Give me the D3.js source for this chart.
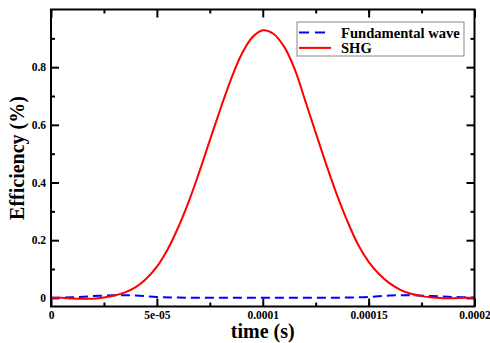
<!DOCTYPE html>
<html>
<head>
<meta charset="utf-8">
<script src="https://cdn.jsdelivr.net/npm/d3@7"></script>
<style>
  body { margin: 0; background: #fff; }
  svg text { font-family: "Liberation Serif", "Times New Roman", serif; font-weight: bold; }
</style>
</head>
<body>
<figure id="chart" style="margin:0"></figure>
<script>
// time samples (s), 5e-06 steps
const timeRed = d3.range(0, 41).map(i => i * 5e-6);
const shgValues = [
  0, 0, -0.002, -0.003, -0.003, 0.001, 0.008, 0.019, 0.037, 0.066,
  0.108, 0.167, 0.243, 0.333, 0.436, 0.546, 0.655, 0.758, 0.845, 0.903,
  0.928, 0.916, 0.872, 0.795, 0.685, 0.573, 0.462, 0.358, 0.265, 0.185,
  0.125, 0.082, 0.050, 0.028, 0.014, 0.006, 0.001, -0.001, -0.001, 0,
  0
];

// fundamental wave, 1e-05 steps
const timeBlue = d3.range(0, 21).map(i => i * 1e-5);
const fundValues = [
  0, 0.002, 0.006, 0.009, 0.008, 0.003, 0.001, 0, 0, 0,
  0, 0, 0, 0, 0.001, 0.003, 0.008, 0.009, 0.006, 0.003,
  0.001
];

const xTickValues = [0, 5e-5, 1e-4, 1.5e-4, 2e-4];
const xTickLabels = ["0", "5e-05", "0.0001", "0.00015", "0.0002"];
const yTickValues = [0, 0.2, 0.4, 0.6, 0.8];
const yTickLabels = ["0", "0.2", "0.4", "0.6", "0.8"];
const seriesNames = ["Fundamental wave", "SHG"];

const width = 490, height = 343;
const margin = { left: 51, right: 15.5, top: 9.5, bottom: 36.5 };
const innerW = width - margin.left - margin.right;
const innerH = height - margin.top - margin.bottom;

const svg = d3.select("figure#chart")
  .append("svg")
  .attr("width", width)
  .attr("height", height);

const g = svg.append("g")
  .attr("transform", "translate(" + margin.left + "," + margin.top + ")");

const x = d3.scaleLinear().domain([0, 2e-4]).range([0, innerW]);
const y = d3.scaleLinear().domain([-0.03, 1.0]).range([innerH, 0]);

// clip so curves stay inside the frame
g.append("clipPath").attr("id", "clip")
  .append("rect").attr("width", innerW).attr("height", innerH);

const xMinor = d3.range(0, 9).map(i => i * 2.5e-5).filter(v => !xTickValues.includes(v));
const yMinor = [0.1, 0.3, 0.5, 0.7, 0.9];

// ticks on all four sides, pointing inward
function tickAxis(axisFn, scale, values, len, transform) {
  const a = g.append("g")
    .attr("transform", transform)
    .call(axisFn(scale).tickValues(values).tickSize(len).tickFormat(""));
  a.select(".domain").remove();
  a.selectAll("line").attr("stroke", "#000").attr("stroke-width", 2);
  return a;
}
tickAxis(d3.axisTop, x, xTickValues, 8, "translate(0," + innerH + ")");
tickAxis(d3.axisTop, x, xMinor, 4, "translate(0," + innerH + ")");
tickAxis(d3.axisBottom, x, xTickValues, 8, "translate(0,0)");
tickAxis(d3.axisBottom, x, xMinor, 4, "translate(0,0)");
tickAxis(d3.axisRight, y, yTickValues, 8, "translate(0,0)");
tickAxis(d3.axisRight, y, yMinor, 4, "translate(0,0)");
tickAxis(d3.axisLeft, y, yTickValues, 8, "translate(" + innerW + ",0)");
tickAxis(d3.axisLeft, y, yMinor, 4, "translate(" + innerW + ",0)");

// tick labels
const xLab = g.append("g")
  .attr("transform", "translate(0," + innerH + ")")
  .call(d3.axisBottom(x).tickValues(xTickValues).tickSize(0).tickPadding(4)
    .tickFormat((d, i) => xTickLabels[i]));
xLab.select(".domain").remove();
xLab.selectAll("text").attr("font-size", 11.5).attr("fill", "#000")
  .attr("font-family", "'Liberation Serif', serif").attr("font-weight", "bold");

const yLab = g.append("g")
  .call(d3.axisLeft(y).tickValues(yTickValues).tickSize(0).tickPadding(5)
    .tickFormat((d, i) => yTickLabels[i]));
yLab.select(".domain").remove();
yLab.selectAll("text").attr("font-size", 11.5).attr("fill", "#000")
  .attr("font-family", "'Liberation Serif', serif").attr("font-weight", "bold");

const line = d3.line()
  .x(d => x(d[0]))
  .y(d => y(d[1]))
  .curve(d3.curveCatmullRom.alpha(0.5));

const plot = g.append("g").attr("clip-path", "url(#clip)");

plot.append("path")
  .datum(timeBlue.map((t, i) => [t, fundValues[i]]))
  .attr("fill", "none")
  .attr("stroke", "#0000ff")
  .attr("stroke-width", 2)
  .attr("stroke-dasharray", "9,5")
  .attr("d", line);

plot.append("path")
  .datum(timeRed.map((t, i) => [t, shgValues[i]]))
  .attr("fill", "none")
  .attr("stroke", "#ff0000")
  .attr("stroke-width", 2)
  .attr("d", line);

// frame
g.append("rect")
  .attr("width", innerW)
  .attr("height", innerH)
  .attr("fill", "none")
  .attr("stroke", "#000")
  .attr("stroke-width", 2);

// axis titles
svg.append("text")
  .attr("x", margin.left + innerW / 2)
  .attr("y", 338)
  .attr("text-anchor", "middle")
  .attr("font-size", 20)
  .text("time (s)");

svg.append("text")
  .attr("transform", "translate(24," + (margin.top + innerH / 2) + ") rotate(-90)")
  .attr("text-anchor", "middle")
  .attr("font-size", 20)
  .text("Efficiency (%)");

// legend
const legend = svg.append("g").attr("transform", "translate(297,22)");
legend.append("rect")
  .attr("width", 167)
  .attr("height", 34)
  .attr("fill", "#fff")
  .attr("stroke", "#888")
  .attr("stroke-width", 1);

const legendStyles = [
  { color: "#0000ff", dash: "10,6" },
  { color: "#ff0000", dash: null }
];
seriesNames.forEach((name, i) => {
  const row = legend.append("g").attr("transform", "translate(0," + (10.5 + i * 15.4) + ")");
  row.append("line")
    .attr("x1", 2).attr("x2", 34)
    .attr("stroke", legendStyles[i].color)
    .attr("stroke-width", 2)
    .attr("stroke-dasharray", legendStyles[i].dash);
  row.append("text")
    .attr("x", 44)
    .attr("y", 5)
    .attr("font-size", 14.6)
    .text(name);
});
</script>
</body>
</html>
